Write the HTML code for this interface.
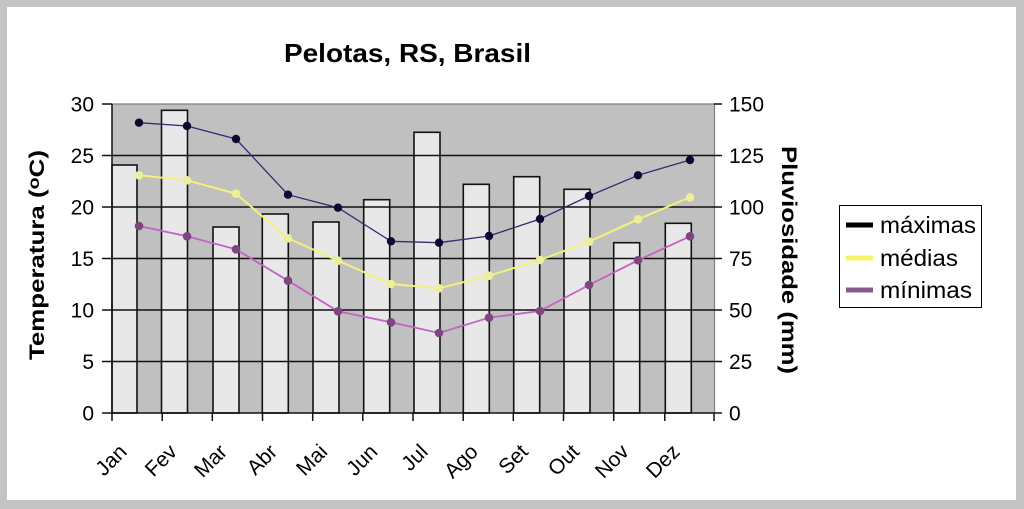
<!DOCTYPE html>
<html><head><meta charset="utf-8"><style>
html,body{margin:0;padding:0;background:#c4c4c4;}
svg{display:block;}
text{font-family:"Liberation Sans",Arial,sans-serif;fill:#000;}
</style></head><body>
<svg width="1024" height="509" viewBox="0 0 1024 509" xmlns="http://www.w3.org/2000/svg">
<rect x="0" y="0" width="1024" height="509" fill="#c4c4c4"/>
<rect x="7" y="7" width="1009" height="493" fill="#ffffff"/>
<!-- title -->
<text x="284" y="62" font-size="26" font-weight="bold" textLength="247" lengthAdjust="spacingAndGlyphs">Pelotas, RS, Brasil</text>
<!-- plot bg -->
<rect x="112" y="104" width="602" height="309" fill="#c0c0c0"/>
<line x1="112" y1="104" x2="715" y2="104" stroke="#808080" stroke-width="1.2"/>
<line x1="714.5" y1="104" x2="714.5" y2="413" stroke="#808080" stroke-width="1.2"/>
<!-- bars -->
<g fill="#e8e8e8" stroke="#111" stroke-width="1.6">
<rect x="112" y="165" width="25" height="248"/>
<rect x="161.5" y="110.3" width="26" height="302.7"/>
<rect x="213" y="227" width="26" height="186"/>
<rect x="262.3" y="214" width="26" height="199"/>
<rect x="313" y="222" width="26" height="191"/>
<rect x="363.7" y="199.7" width="26" height="213.3"/>
<rect x="414" y="132.3" width="26" height="280.7"/>
<rect x="463.3" y="184.3" width="26" height="228.7"/>
<rect x="513.7" y="176.7" width="26" height="236.3"/>
<rect x="564" y="189.3" width="26" height="223.7"/>
<rect x="613.7" y="242.7" width="26" height="170.3"/>
<rect x="665.3" y="223.3" width="26" height="189.7"/>
</g>
<!-- gridlines -->
<g stroke="#111" stroke-width="1.5">
<line x1="102" y1="155.5" x2="722" y2="155.5"/>
<line x1="102" y1="207" x2="722" y2="207"/>
<line x1="102" y1="258.5" x2="722" y2="258.5"/>
<line x1="102" y1="310" x2="722" y2="310"/>
<line x1="102" y1="361.5" x2="722" y2="361.5"/>
<line x1="102" y1="413" x2="722" y2="413"/>
<line x1="102" y1="104" x2="112" y2="104"/>
<line x1="714" y1="104" x2="722" y2="104"/>
<line x1="112" y1="104" x2="112" y2="413"/>
</g>
<!-- x ticks -->
<g stroke="#111" stroke-width="1.5">
<line x1="112" y1="413" x2="112" y2="421"/>
<line x1="162.2" y1="413" x2="162.2" y2="421"/>
<line x1="212.3" y1="413" x2="212.3" y2="421"/>
<line x1="262.5" y1="413" x2="262.5" y2="421"/>
<line x1="312.7" y1="413" x2="312.7" y2="421"/>
<line x1="362.8" y1="413" x2="362.8" y2="421"/>
<line x1="413" y1="413" x2="413" y2="421"/>
<line x1="463.2" y1="413" x2="463.2" y2="421"/>
<line x1="513.3" y1="413" x2="513.3" y2="421"/>
<line x1="563.5" y1="413" x2="563.5" y2="421"/>
<line x1="613.7" y1="413" x2="613.7" y2="421"/>
<line x1="664.8" y1="413" x2="664.8" y2="421"/>
<line x1="714" y1="413" x2="714" y2="421"/>
</g>
<!-- max -->
<polyline fill="none" stroke="#2e2e70" stroke-width="1.3" points="139,122.7 187,126 236,139 288,194.7 338,207.7 391,241.3 439,242.7 489,236 540,219 589,196 638,175.3 690,160"/>
<g fill="#0a0a30">
<circle cx="139" cy="122.7" r="4.2"/><circle cx="187" cy="126" r="4.2"/><circle cx="236" cy="139" r="4.2"/><circle cx="288" cy="194.7" r="4.2"/><circle cx="338" cy="207.7" r="4.2"/><circle cx="391" cy="241.3" r="4.2"/><circle cx="439" cy="242.7" r="4.2"/><circle cx="489" cy="236" r="4.2"/><circle cx="540" cy="219" r="4.2"/><circle cx="589" cy="196" r="4.2"/><circle cx="638" cy="175.3" r="4.2"/><circle cx="690" cy="160" r="4.2"/>
</g>
<!-- media -->
<polyline fill="none" stroke="#f2f27a" stroke-width="2" points="139,175.3 187,180.3 236,193.7 288,238.3 338,260.7 391,284 439,288.3 489,275.7 540,260 589,241.7 638,219.3 690,197.3"/>
<g fill="#eeee9a">
<circle cx="139" cy="175.3" r="4.3"/><circle cx="187" cy="180.3" r="4.3"/><circle cx="236" cy="193.7" r="4.3"/><circle cx="288" cy="238.3" r="4.3"/><circle cx="338" cy="260.7" r="4.3"/><circle cx="391" cy="284" r="4.3"/><circle cx="439" cy="288.3" r="4.3"/><circle cx="489" cy="275.7" r="4.3"/><circle cx="540" cy="260" r="4.3"/><circle cx="589" cy="241.7" r="4.3"/><circle cx="638" cy="219.3" r="4.3"/><circle cx="690" cy="197.3" r="4.3"/>
</g>
<!-- min -->
<polyline fill="none" stroke="#c462c4" stroke-width="1.8" points="139,226 187,236.3 236,249.3 288,280.7 338,311.3 391,322.3 439,333 489,317.7 540,311 589,285 638,260.3 690,236.3"/>
<g fill="#7e457e">
<circle cx="139" cy="226" r="4.3"/><circle cx="187" cy="236.3" r="4.3"/><circle cx="236" cy="249.3" r="4.3"/><circle cx="288" cy="280.7" r="4.3"/><circle cx="338" cy="311.3" r="4.3"/><circle cx="391" cy="322.3" r="4.3"/><circle cx="439" cy="333" r="4.3"/><circle cx="489" cy="317.7" r="4.3"/><circle cx="540" cy="311" r="4.3"/><circle cx="589" cy="285" r="4.3"/><circle cx="638" cy="260.3" r="4.3"/><circle cx="690" cy="236.3" r="4.3"/>
</g>
<!-- left labels -->
<g font-size="21" text-anchor="end">
<text x="94" y="111.5">30</text>
<text x="94" y="163">25</text>
<text x="94" y="214.5">20</text>
<text x="94" y="266">15</text>
<text x="94" y="317.5">10</text>
<text x="94" y="369">5</text>
<text x="94" y="420.5">0</text>
</g>
<!-- right labels -->
<g font-size="21">
<text x="729" y="111.5">150</text>
<text x="729" y="163">125</text>
<text x="729" y="214.5">100</text>
<text x="729" y="266">75</text>
<text x="729" y="317.5">50</text>
<text x="729" y="369">25</text>
<text x="729" y="420.5">0</text>
</g>
<!-- x labels -->
<g font-size="21" text-anchor="end">
<text transform="translate(128,453) rotate(-45)">Jan</text>
<text transform="translate(178.2,453) rotate(-45)">Fev</text>
<text transform="translate(228.3,453) rotate(-45)">Mar</text>
<text transform="translate(278.5,453) rotate(-45)">Abr</text>
<text transform="translate(328.7,453) rotate(-45)">Mai</text>
<text transform="translate(378.8,453) rotate(-45)">Jun</text>
<text transform="translate(429,453) rotate(-45)">Jul</text>
<text transform="translate(479.2,453) rotate(-45)">Ago</text>
<text transform="translate(529.3,453) rotate(-45)">Set</text>
<text transform="translate(580.5,453) rotate(-45)">Out</text>
<text transform="translate(630,453) rotate(-45)">Nov</text>
<text transform="translate(681,453) rotate(-45)">Dez</text>
</g>
<!-- axis titles -->
<text transform="translate(44,255) rotate(-90)" font-size="21" font-weight="bold" text-anchor="middle" textLength="210" lengthAdjust="spacingAndGlyphs">Temperatura (<tspan font-size="16" dy="-5">o</tspan><tspan dy="5">C)</tspan></text>
<text transform="translate(782,260) rotate(90)" font-size="21" font-weight="bold" text-anchor="middle" textLength="228" lengthAdjust="spacingAndGlyphs">Pluviosidade (mm)</text>
<!-- legend -->
<rect x="839.5" y="205.5" width="142" height="102" fill="#ffffff" stroke="#000" stroke-width="1"/>
<line x1="846" y1="225" x2="873" y2="225" stroke="#000" stroke-width="5"/>
<line x1="846" y1="258" x2="873" y2="258" stroke="#f4f46a" stroke-width="5"/>
<line x1="846" y1="290" x2="873" y2="290" stroke="#8a5a8a" stroke-width="5"/>
<g font-size="23">
<text x="880" y="233" textLength="96" lengthAdjust="spacingAndGlyphs">máximas</text>
<text x="880" y="266" textLength="78" lengthAdjust="spacingAndGlyphs">médias</text>
<text x="880" y="298" textLength="92" lengthAdjust="spacingAndGlyphs">mínimas</text>
</g>
</svg>
</body></html>
